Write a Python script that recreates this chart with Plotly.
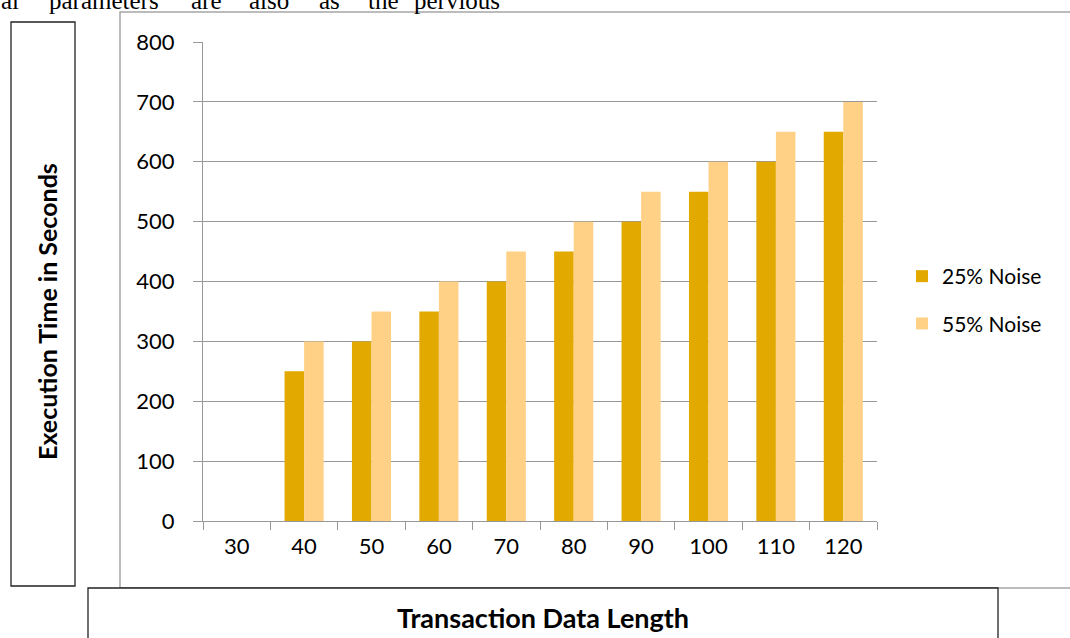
import plotly.graph_objects as go

categories = ["30", "40", "50", "60", "70", "80", "90", "100", "110", "120"]
noise25 = [0, 250, 300, 350, 400, 450, 500, 550, 600, 650]
noise55 = [0, 300, 350, 400, 450, 500, 550, 600, 650, 700]
series_names = ["25% Noise", "55% Noise"]
y_ticks = [0, 100, 200, 300, 400, 500, 600, 700, 800]
y_title = "Execution Time in Seconds"
x_title = "Transaction Data Length"
top_words = ["al", "parameters", "are", "also", "as", "the", "pervious"]
top_word_x = [0, 48, 190, 248, 318, 367, 413]

W, H = 1070, 638
L, R, T, B = 203, 877, 42, 521
PW, PH = R - L, B - T


def px(x):
    return (x - L) / PW


def py(y):
    return (B - y) / PH


DARK = "#E2A900"
LIGHT = "#FFD187"
GRID = "#979797"
FONT = "Lato"

fig = go.Figure()
fig.add_trace(go.Bar(x=categories, y=noise25, name=series_names[0],
                     marker=dict(color=DARK, line=dict(width=0)), legendgroup="a"))
fig.add_trace(go.Bar(x=categories, y=noise55, name=series_names[1],
                     marker=dict(color=LIGHT, line=dict(width=0)), legendgroup="b"))

shapes = [
    dict(type="rect", xref="paper", yref="paper", x0=px(120), x1=px(1080), y0=py(588), y1=py(12),
         line=dict(color="#A6A6A6", width=1.5), fillcolor="rgba(0,0,0,0)", layer="below"),
    dict(type="rect", xref="paper", yref="paper", x0=px(11), x1=px(75), y0=py(586), y1=py(22),
         line=dict(color="#222222", width=1.3), fillcolor="white", layer="above"),
    dict(type="rect", xref="paper", yref="paper", x0=px(88), x1=px(998), y0=py(650), y1=py(588),
         line=dict(color="#222222", width=1.3), fillcolor="white", layer="above"),
]

annotations = [
    dict(text="<b>" + y_title + "</b>", xref="paper", yref="paper", x=px(47), y=py(312),
         textangle=-90, showarrow=False, font=dict(family=FONT, size=25, color="black"),
         xanchor="center", yanchor="middle"),
    dict(text="<b>" + x_title + "</b>", xref="paper", yref="paper", x=px(543), y=py(617),
         showarrow=False, font=dict(family=FONT, size=27, color="black"),
         xanchor="center", yanchor="middle"),
]
for w, xw in zip(top_words, top_word_x):
    annotations.append(dict(text=w, xref="paper", yref="paper", x=px(xw), y=py(15),
                            xanchor="left", yanchor="bottom", showarrow=False,
                            font=dict(family="Liberation Serif", size=25, color="black"),
                            borderpad=0))

fig.update_layout(
    width=W, height=H,
    margin=dict(l=L, r=W - R, t=T, b=H - B, pad=0),
    paper_bgcolor="white", plot_bgcolor="white",
    barmode="group", bargap=0.42, bargroupgap=0,
    font=dict(family=FONT, size=22, color="black"),
    showlegend=True,
    legend=dict(x=px(902), y=py(256), xanchor="left", yanchor="top",
                font=dict(family=FONT, size=21, color="black"),
                tracegroupgap=17, traceorder="grouped", bgcolor="rgba(0,0,0,0)"),
    xaxis=dict(type="category", tickson="boundaries", ticks="outside", ticklen=8,
               tickcolor=GRID, showline=True, linecolor=GRID, linewidth=1,
               showgrid=False, tickfont=dict(family=FONT, size=22), ticklabelstandoff=6),
    yaxis=dict(range=[0, 800], tickvals=y_ticks, ticks="outside", ticklen=9,
               tickcolor=GRID, showline=True, linecolor=GRID, linewidth=1,
               showgrid=True, gridcolor=GRID, gridwidth=1, zeroline=False,
               tickfont=dict(family=FONT, size=22), ticklabelstandoff=14),
    shapes=shapes,
    annotations=annotations,
)

fig.write_html("out.html", config={"displayModeBar": False},
               post_script="document.body.style.margin='0';document.body.style.overflow='hidden';")
